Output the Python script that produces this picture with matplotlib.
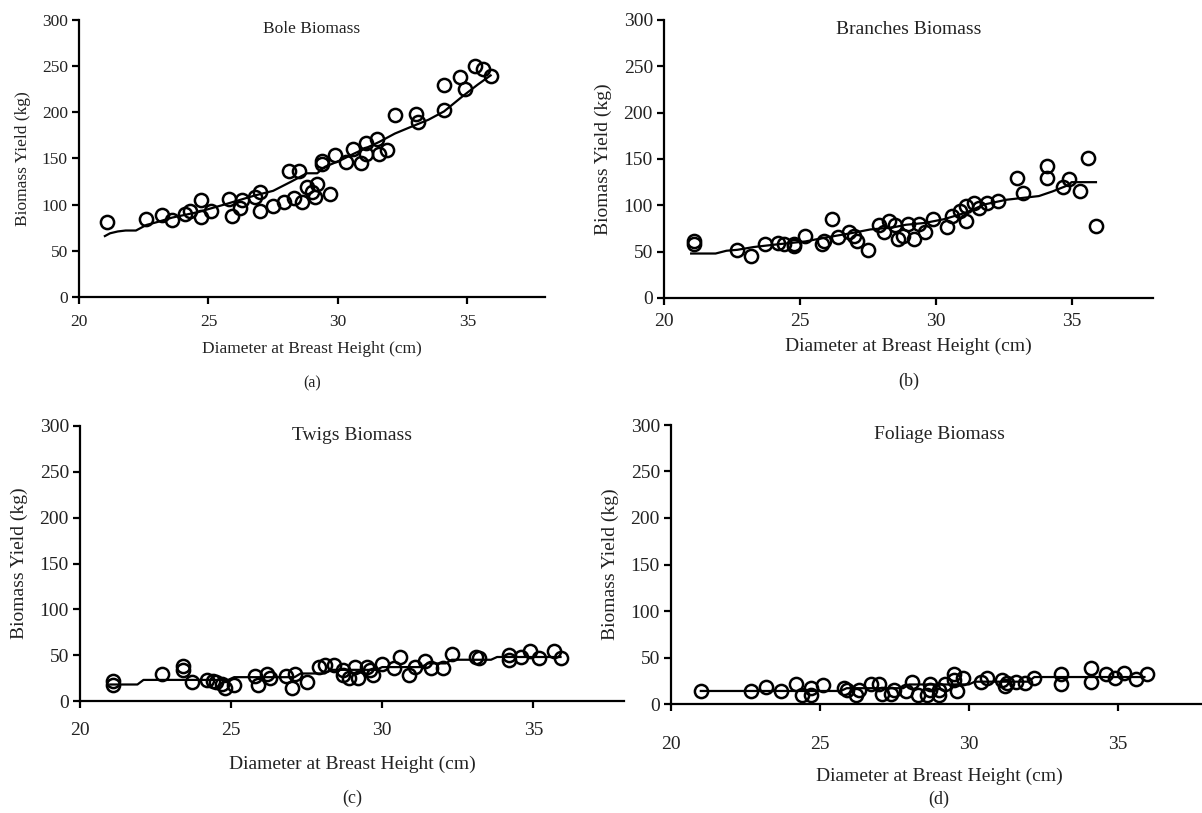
import matplotlib
matplotlib.use('Agg')
import matplotlib.pyplot as plt

plt.rcParams['font.family'] = ['Liberation Serif', 'DejaVu Serif']

# Datos: DAP (cm) y biomasa (kg)
bole_x = [21.1, 22.6, 23.2, 23.6, 24.1, 24.3, 24.7, 24.7, 25.1, 25.8, 25.9, 26.2,
          26.3, 26.8, 27.0, 27.0, 27.5, 27.9, 28.1, 28.3, 28.5, 28.6, 28.8, 29.0,
          29.1, 29.2, 29.4, 29.4, 29.7, 29.9, 30.3, 30.6, 30.9, 31.1, 31.1, 31.5,
          31.6, 31.9, 32.2, 33.0, 33.1, 34.1, 34.1, 34.7, 34.9, 35.3, 35.6, 35.9]
bole_y = [81, 84, 89, 83, 90, 93, 87, 105, 93, 106, 88, 96,
          105, 108, 114, 93, 99, 103, 136, 107, 136, 103, 119, 114,
          108, 122, 147, 144, 112, 154, 146, 160, 145, 155, 167, 171,
          155, 159, 197, 198, 190, 202, 230, 238, 225, 250, 247, 239]
bole_fit_x = [21.0, 21.2, 21.5, 21.8, 22.2, 22.6, 23.0, 23.6, 24.6, 25.6, 26.8, 27.5, 28.2,
              28.8, 29.2, 29.5, 30.1, 30.6, 31.6, 32.2, 32.8, 33.5, 34.1, 34.8, 35.4, 35.9]
bole_fit_y = [66, 69, 71, 72, 72, 78, 81, 86, 92, 100, 110, 115, 125,
              134, 134, 141, 148, 155, 168, 177, 184, 192, 201, 217, 230, 240]

branch_x = [21.1, 21.1, 22.7, 23.2, 23.7, 24.2, 24.4, 24.8, 24.8, 25.2, 25.8, 25.9,
            26.2, 26.4, 26.8, 27.0, 27.1, 27.5, 27.9, 28.1, 28.3, 28.5, 28.6, 28.8,
            29.0, 29.2, 29.4, 29.6, 29.9, 30.4, 30.6, 30.9, 31.1, 31.1, 31.4, 31.6,
            31.9, 32.3, 33.0, 33.2, 34.1, 34.1, 34.7, 34.9, 35.3, 35.6, 35.9]
branch_y = [58, 62, 52, 45, 58, 59, 58, 58, 56, 67, 58, 61,
            85, 66, 71, 67, 61, 52, 79, 71, 83, 79, 64, 67,
            80, 64, 80, 71, 85, 77, 89, 94, 99, 83, 103, 97,
            103, 105, 130, 113, 142, 129, 120, 128, 116, 151, 78]
branch_fit_x = [21.0, 21.9, 22.3, 22.7, 23.3, 24.2, 25.2, 25.9, 26.9, 27.6, 28.4, 28.9,
                29.6, 30.3, 31.1, 31.8, 32.6, 33.2, 33.8, 34.3, 34.9, 35.0, 35.9]
branch_fit_y = [48, 48, 51, 52, 55, 58, 61, 65, 70, 74, 76, 79,
                81, 85, 92, 101, 106, 108, 110, 115, 122, 125, 125]

twig_x = [21.1, 21.1, 22.7, 23.4, 23.4, 23.7, 24.2, 24.4, 24.5, 24.7, 24.8, 25.1,
          25.8, 25.9, 26.2, 26.3, 26.8, 27.0, 27.1, 27.5, 27.9, 28.1, 28.4, 28.7,
          28.7, 28.9, 29.1, 29.2, 29.5, 29.6, 29.7, 30.0, 30.4, 30.6, 30.9, 31.1,
          31.4, 31.6, 32.0, 32.3, 33.1, 33.2, 34.2, 34.2, 34.6, 34.9, 35.2, 35.7, 35.9]
twig_y = [22, 17, 29, 38, 34, 21, 23, 22, 21, 19, 14, 17,
          27, 17, 29, 25, 27, 14, 30, 21, 37, 39, 39, 34,
          28, 25, 37, 25, 37, 34, 28, 40, 36, 48, 28, 37,
          44, 36, 36, 51, 48, 47, 50, 45, 48, 55, 47, 55, 47]
twig_fit_x = [21.0, 21.9, 22.1, 24.9, 25.1, 27.1, 27.3, 28.1, 28.3, 29.8, 30.0, 31.3,
              31.5, 32.1, 32.3, 33.6, 33.8, 35.9]
twig_fit_y = [18, 18, 23, 23, 26, 26, 30, 30, 34, 34, 37, 37,
              41, 41, 45, 45, 48, 48]

foliage_x = [21.0, 22.7, 23.2, 23.7, 24.2, 24.4, 24.7, 24.7, 25.1, 25.8, 25.9, 26.2,
             26.3, 26.7, 27.0, 27.1, 27.4, 27.5, 27.9, 28.1, 28.3, 28.6, 28.7, 28.7,
             29.0, 29.0, 29.2, 29.5, 29.5, 29.6, 29.8, 30.4, 30.6, 31.1, 31.2, 31.3,
             31.6, 31.9, 32.2, 33.1, 33.1, 34.1, 34.1, 34.6, 34.9, 35.2, 35.6, 36.0]
foliage_y = [14, 14, 18, 14, 21, 10, 10, 17, 20, 17, 15, 10,
             15, 21, 21, 11, 11, 15, 14, 24, 10, 10, 21, 15,
             10, 15, 21, 32, 26, 14, 28, 24, 28, 26, 19, 23,
             24, 23, 28, 32, 21, 39, 24, 32, 28, 33, 27, 32]
foliage_fit_x = [21.0, 25.7, 25.9, 27.8, 28.0, 30.0, 30.2, 32.0, 32.2, 35.9]
foliage_fit_y = [14, 14, 17, 17, 21, 21, 24, 24, 29, 29]

W, H = 1202, 813
fig = plt.figure(figsize=(W / 100, H / 100), dpi=100)


def caja(izq, der, arriba, abajo):
    # convierte pixeles a fracciones de la figura
    return [izq / W, 1 - abajo / H, (der - izq) / W, (abajo - arriba) / H]


paneles = [
    # datos, ajuste, titulo, letra, caja, tamano de letra, y del xlabel, y de la letra, pad
    (bole_x, bole_y, bole_fit_x, bole_fit_y, 'Bole Biomass', '(a)',
     caja(79, 545, 20, 297), 12.5, 349, 383, 7),
    (branch_x, branch_y, branch_fit_x, branch_fit_y, 'Branches Biomass', '(b)',
     caja(664, 1153, 20, 298), 14, 346, 381, 6),
    (twig_x, twig_y, twig_fit_x, twig_fit_y, 'Twigs Biomass', '(c)',
     caja(80, 624, 426, 701), 14, 764, 798, 10),
    (foliage_x, foliage_y, foliage_fit_x, foliage_fit_y, 'Foliage Biomass', '(d)',
     caja(671, 1207, 425, 704), 14, 776, 799, 18),
]

color_txt = '#222222'

for px, py, fx, fy, titulo, letra, pos, fs, y_lab, y_let, pad in paneles:
    ax = fig.add_axes(pos)
    ax.plot(px, py, 'o', ms=9.5, mfc='none', mec='black', mew=1.8, zorder=3)
    ax.plot(fx, fy, color='black', lw=1.6, zorder=4)

    ax.set_xlim(20, 38)
    ax.set_ylim(0, 300)
    ax.set_xticks([20, 25, 30, 35])
    ax.set_yticks(range(0, 301, 50))

    ax.spines['top'].set_visible(False)
    ax.spines['right'].set_visible(False)
    ax.spines['left'].set_linewidth(1.6)
    ax.spines['bottom'].set_linewidth(1.6)
    ax.tick_params(axis='both', direction='out', length=5, width=1.6,
                   labelsize=fs, labelcolor=color_txt)
    ax.tick_params(axis='x', pad=pad)
    ax.tick_params(axis='y', pad=3)

    ax.set_ylabel('Biomass Yield (kg)', fontsize=fs, color=color_txt, labelpad=8)

    ax.text(0.5, 0.995, titulo, transform=ax.transAxes, ha='center', va='top',
            fontsize=fs, color=color_txt)

    centro = (pos[0] + pos[2] / 2) if letra != '(d)' else (671 + 268) / W
    fig.text(centro, 1 - y_lab / H, 'Diameter at Breast Height (cm)', ha='center',
             va='center', fontsize=fs, color=color_txt)
    fig.text(centro, 1 - y_let / H, letra, ha='center', va='center',
             fontsize=fs - 1, color=color_txt)

fig.savefig('out.png', dpi=100)
